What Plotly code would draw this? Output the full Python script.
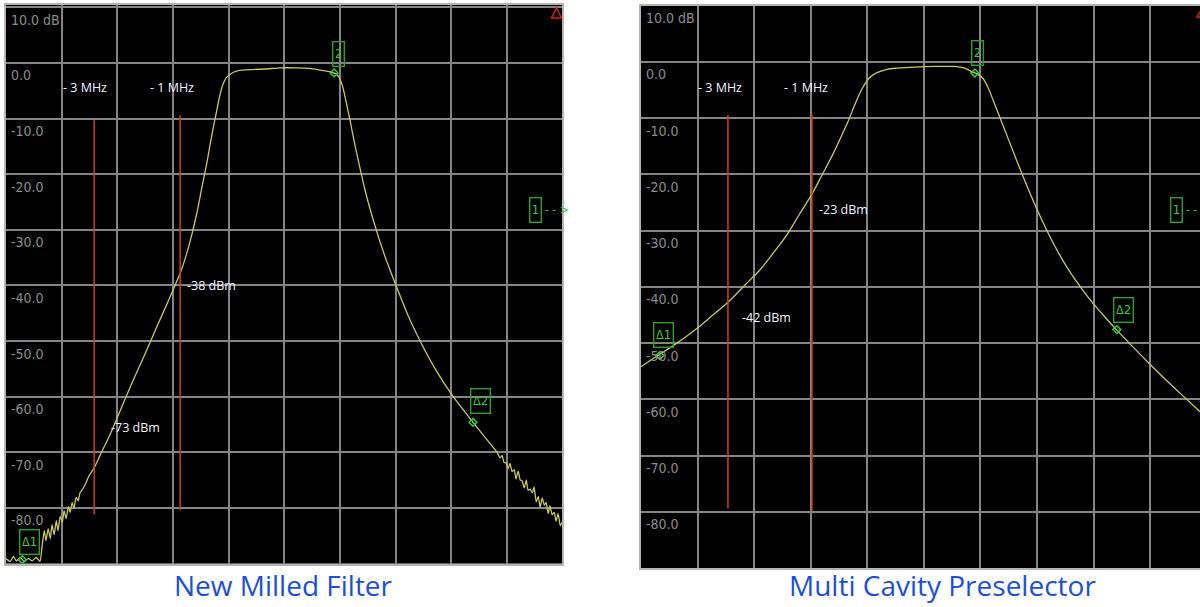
import plotly.graph_objects as go

# ---------------- data ----------------
# Left panel: New Milled Filter (frequency offset from lower passband edge, MHz ; level dB)
left_freq = [-5.05, -4.95, -4.88, -4.81, -4.72, -4.63, -4.53, -4.44, -4.35, -4.26,
             -4.21, -4.16, -4.12, -4.07, -4.02, -3.98, -3.93, -3.88, -3.84, -3.79,
             -3.74, -3.70, -3.65, -3.60, -3.56, -3.51, -3.47, -3.42, -3.37, -3.33,
             -3.26, -3.19, -3.12, -3.00, -2.86, -2.63, -2.40, -2.09, -1.81, -1.53,
             -1.28, -1.12, -1.00, -0.86, -0.72, -0.60, -0.49, -0.37, -0.26, -0.16, -0.09,
             -0.02, 0.07, 0.19, 0.35, 0.63, 0.98, 1.33, 1.67, 2.02, 2.26,
             2.49, 2.60, 2.67, 2.77, 2.86, 2.95, 3.07, 3.19, 3.30, 3.44, 3.60,
             3.81, 4.05, 4.30, 4.58, 4.93, 5.35, 5.81, 6.09, 6.37, 6.44,
             6.49, 6.53, 6.58, 6.63, 6.67, 6.72, 6.77, 6.81, 6.86, 6.91,
             6.95, 7.00, 7.05, 7.09, 7.14, 7.19, 7.23, 7.28, 7.33, 7.37,
             7.42, 7.47, 7.51, 7.56, 7.60, 7.65, 7.70, 7.74, 7.79, 7.84, 7.88]
left_level = [-89.1, -89.6, -88.7, -89.5, -88.9, -89.6, -89.1, -89.5, -88.9, -89.6,
              -86.8, -84.1, -85.9, -83.7, -85.5, -83.0, -84.8, -82.3, -84.1, -81.5,
              -82.6, -80.5, -81.9, -79.7, -80.8, -79.0, -80.1, -78.1, -78.7, -77.3,
              -76.5, -75.5, -74.2, -72.8, -70.5, -66.8, -62.6, -57.0, -52.2, -47.2,
              -42.9, -40.0, -37.8, -34.6, -30.6, -26.6, -22.2, -17.6, -12.8, -9.0, -6.3,
              -4.2, -2.7, -1.9, -1.4, -1.2, -1.1, -0.9, -0.9, -1.0, -1.3,
              -1.6, -1.9, -2.3, -4.0, -7.0, -10.3, -15.0, -19.2, -22.9, -26.9, -31.0,
              -35.8, -40.6, -45.4, -50.0, -55.0, -60.0, -64.6, -67.3, -70.0, -71.0,
              -70.6, -71.8, -71.9, -72.9, -72.0, -73.5, -73.1, -74.8, -73.4, -75.0,
              -75.1, -76.4, -75.0, -76.8, -76.6, -77.3, -76.2, -78.9, -77.9, -79.9,
              -78.2, -79.5, -79.0, -81.0, -79.6, -81.2, -80.8, -82.4, -81.0, -83.2, -82.6]

# Right panel: Multi Cavity Preselector
right_freq = [-5.07, -4.69, -4.31, -3.74, -3.38, -3.00, -2.60, -2.24, -1.83, -1.60, -1.29,
              -1.00, -0.76, -0.52, -0.33, -0.14, 0.02, 0.19, 0.38, 0.55, 0.79, 1.02,
              1.45, 1.93, 2.40, 2.64, 2.83, 2.95, 3.07, 3.19, 3.31, 3.55,
              3.88, 4.19, 4.50, 4.83, 5.14, 5.43, 5.69, 5.98, 6.26, 6.62,
              7.00, 7.45, 7.88, 8.24]
right_level = [-54.2, -52.3, -50.5, -47.4, -45.15, -42.75, -39.7, -37.0, -33.1, -30.8, -27.0,
               -23.5, -20.1, -16.7, -13.7, -10.6, -7.6, -4.8, -2.7, -1.9, -1.3, -1.1,
               -0.9, -0.8, -0.8, -1.1, -1.8, -2.2, -2.9, -4.5, -6.7, -11.3,
               -17.6, -23.3, -28.5, -33.4, -37.3, -40.4, -42.9, -45.4, -47.7, -50.5,
               -53.4, -56.7, -59.7, -62.2]

# Amplitude grid labels
grid_levels = [10, 0, -10, -20, -30, -40, -50, -60, -70, -80]
grid_labels = ["10.0 dB", "0.0", "-10.0", "-20.0", "-30.0", "-40.0", "-50.0",
               "-60.0", "-70.0", "-80.0"]

# Offset markers (MHz below the passband)
offsets_mhz = [-3, -1]
offset_labels = ["- 3 MHz", "- 1 MHz"]
left_offset_dbm = [-73, -38]
right_offset_dbm = [-42, -23]
left_line_top = [-10.3, -9.4]
left_line_bottom = [-81.2, -80.3]
right_line_top = [-9.4, -9.4]
right_line_bottom = [-79.4, -79.8]
left_dbm_label_level = [-65.5, -40.0]
right_dbm_label_level = [-45.5, -26.3]

# Analyzer markers
marker_names = ["2", "Δ2", "Δ1"]
left_marker_freq = [2.58, 5.81, -4.67]
left_marker_level = [-1.8, -64.6, -89.3]
right_marker_freq = [2.88, 6.26, -4.62]
right_marker_level = [-1.95, -47.6, -52.2]
ref_marker_level = [-26.5, -26.3]

titles = ["New Milled Filter", "Multi Cavity Preselector"]

# ---------------- styling ----------------
W, H = 1200, 607
TRACE = "#c8c860"
RED = "#d2400f"
GREEN_BOX = "#2c9e2c"
GREEN_TXT = "#3cc83c"
GRID = "#858585"
BORDER = "#b4b4b4"
LBL_FONT = "Liberation Sans Narrow, DejaVu Sans Condensed, sans-serif"
TXT_FONT = "Open Sans, Noto Sans, sans-serif"

L_X0, L_X1 = -5.05, 7.88
R_X0, R_X1 = -5.07, 8.24
L_DT = 1.294
R_DT = 1.347

fig = go.Figure()

# main traces
fig.add_trace(go.Scatter(x=left_freq, y=left_level, mode="lines",
                         line=dict(color=TRACE, width=1.3, shape="spline", smoothing=0.5),
                         xaxis="x", yaxis="y", hoverinfo="skip"))
fig.add_trace(go.Scatter(x=right_freq, y=right_level, mode="lines",
                         line=dict(color=TRACE, width=1.3, shape="spline", smoothing=0.8),
                         xaxis="x2", yaxis="y2", hoverinfo="skip"))

# offset lines
for i, f in enumerate(offsets_mhz):
    fig.add_trace(go.Scatter(x=[f, f], y=[left_line_top[i], left_line_bottom[i]], mode="lines",
                             line=dict(color=RED, width=1.5), xaxis="x", yaxis="y", hoverinfo="skip"))
    fig.add_trace(go.Scatter(x=[f, f], y=[right_line_top[i], right_line_bottom[i]], mode="lines",
                             line=dict(color=RED, width=1.5), xaxis="x2", yaxis="y2", hoverinfo="skip"))

# marker dots
fig.add_trace(go.Scatter(x=left_marker_freq, y=left_marker_level, mode="markers",
                         marker=dict(symbol="diamond-open", size=6, color=GREEN_TXT, line=dict(width=1.5)),
                         xaxis="x", yaxis="y", hoverinfo="skip"))
fig.add_trace(go.Scatter(x=right_marker_freq, y=right_marker_level, mode="markers",
                         marker=dict(symbol="diamond-open", size=6, color=GREEN_TXT, line=dict(width=1.5)),
                         xaxis="x2", yaxis="y2", hoverinfo="skip"))

ann = []
# grid labels
for yref, xref in (("y", "x domain"), ("y2", "x2 domain")):
    for v, t in zip(grid_levels, grid_labels):
        ann.append(dict(x=0, y=v, xref=xref, yref=yref, text=t, showarrow=False,
                        xanchor="left", yanchor="middle", xshift=3, yshift=-12.5,
                        font=dict(family=LBL_FONT, size=14, color="#8c8c8c")))

# offset labels and dBm readouts
lbl_shift_l = [-9, -8]
lbl_shift_r = [-8, -6]
dbm_shift_l = [15, 5]
dbm_shift_r = [12, 5]
for i, f in enumerate(offsets_mhz):
    ann.append(dict(x=f, y=-4.5, xref="x", yref="y", text=offset_labels[i], showarrow=False,
                    xanchor="center", yanchor="middle", xshift=lbl_shift_l[i],
                    font=dict(family=TXT_FONT, size=12.5, color="#f2f5ff")))
    ann.append(dict(x=f, y=-4.6, xref="x2", yref="y2", text=offset_labels[i], showarrow=False,
                    xanchor="center", yanchor="middle", xshift=lbl_shift_r[i],
                    font=dict(family=TXT_FONT, size=12.5, color="#f2f5ff")))
    ann.append(dict(x=f, y=left_dbm_label_level[i], xref="x", yref="y",
                    text=f"{left_offset_dbm[i]} dBm", showarrow=False,
                    xanchor="left", yanchor="middle", xshift=dbm_shift_l[i],
                    font=dict(family=TXT_FONT, size=12.5, color="#f2f5ff")))
    ann.append(dict(x=f, y=right_dbm_label_level[i], xref="x2", yref="y2",
                    text=f"{right_offset_dbm[i]} dBm", showarrow=False,
                    xanchor="left", yanchor="middle", xshift=dbm_shift_r[i],
                    font=dict(family=TXT_FONT, size=12.5, color="#f2f5ff")))

# marker boxes
box_shift_l = [(4, 19), (8, 21), (7, 18)]
box_shift_r = [(3, 20), (7, 20), (4, 20)]
for i, name in enumerate(marker_names):
    w = 6 if len(name) == 1 else 14
    for (xr, yr, fx, fy, sh) in (("x", "y", left_marker_freq, left_marker_level, box_shift_l),
                                 ("x2", "y2", right_marker_freq, right_marker_level, box_shift_r)):
        ann.append(dict(x=fx[i], y=fy[i], xref=xr, yref=yr, text=name, showarrow=False,
                        xanchor="center", yanchor="middle", xshift=sh[i][0], yshift=sh[i][1],
                        width=w, height=19, borderpad=2, bordercolor=GREEN_BOX, borderwidth=1.4,
                        font=dict(family=LBL_FONT, size=13, color=GREEN_TXT)))

# reference level marker "1 - - >"
for xr, yr, fx, lv, arrow in (("x domain", "y", 0.964, ref_marker_level[0], "- - >"),
                              ("x2 domain", "y2", 0.9696, ref_marker_level[1], "- -")):
    ann.append(dict(x=fx, y=lv, xref=xr, yref=yr, text="1", showarrow=False,
                    xanchor="right", yanchor="middle", width=6, height=19, borderpad=2,
                    bordercolor=GREEN_BOX, borderwidth=1.4,
                    font=dict(family=LBL_FONT, size=13, color=GREEN_TXT)))
    ann.append(dict(x=fx, y=lv, xref=xr, yref=yr, text=arrow, showarrow=False,
                    xanchor="left", yanchor="middle", xshift=1,
                    font=dict(family=LBL_FONT, size=12, color=GREEN_TXT)))

# panel titles
for cx, t in ((0.236, titles[0]), (0.785, titles[1])):
    ann.append(dict(x=cx, y=0, xref="paper", yref="paper", text=t, showarrow=False,
                    xanchor="center", yanchor="bottom", yshift=1,
                    font=dict(family=TXT_FONT, size=28, color="#1d4fd6")))

# small red triangles (top-right indicator)
shapes = [
    dict(type="path", xref="x domain", yref="y domain",
         path="M 0.981 0.9767 L 0.999 0.9767 L 0.990 0.9946 Z",
         line=dict(color="#d02020", width=1.5), fillcolor="rgba(0,0,0,0)"),
    dict(type="path", xref="paper", yref="paper",
         path=f"M {1197/W} {1-17/H} L {1209/W} {1-17/H} L {1203/W} {1-7/H} Z",
         line=dict(color="#d02020", width=1.5), fillcolor="rgba(0,0,0,0)"),
]

axis_common = dict(showgrid=True, gridcolor=GRID, gridwidth=1.5, zeroline=False,
                   showticklabels=False, ticks="", fixedrange=True)

fig.update_layout(
    width=W, height=H, margin=dict(l=0, r=0, t=0, b=0),
    paper_bgcolor="white", plot_bgcolor="black", showlegend=False,
    xaxis=dict(domain=[6 / W, 562 / W], range=[L_X0, L_X1], tick0=L_X0, dtick=L_DT,
               showline=True, linecolor=BORDER, linewidth=2, mirror=True, anchor="y", **axis_common),
    yaxis=dict(domain=[1 - 563.6 / H, 1 - 5 / H], range=[-90, 10.4], tick0=0, dtick=10,
               showline=True, linecolor=BORDER, linewidth=2, mirror=True, anchor="x", **axis_common),
    xaxis2=dict(domain=[641 / W, 1.0], range=[R_X0, R_X1], tick0=R_X0, dtick=R_DT,
                showline=True, linecolor=BORDER, linewidth=2, mirror=True, anchor="y2", **axis_common),
    yaxis2=dict(domain=[1 - 568 / H, 1 - 5.75 / H], range=[-90, 10], tick0=0, dtick=10,
                showline=True, linecolor=BORDER, linewidth=2, mirror=False, anchor="x2", **axis_common),
    annotations=ann, shapes=shapes,
)
fig.write_html("out.html")
